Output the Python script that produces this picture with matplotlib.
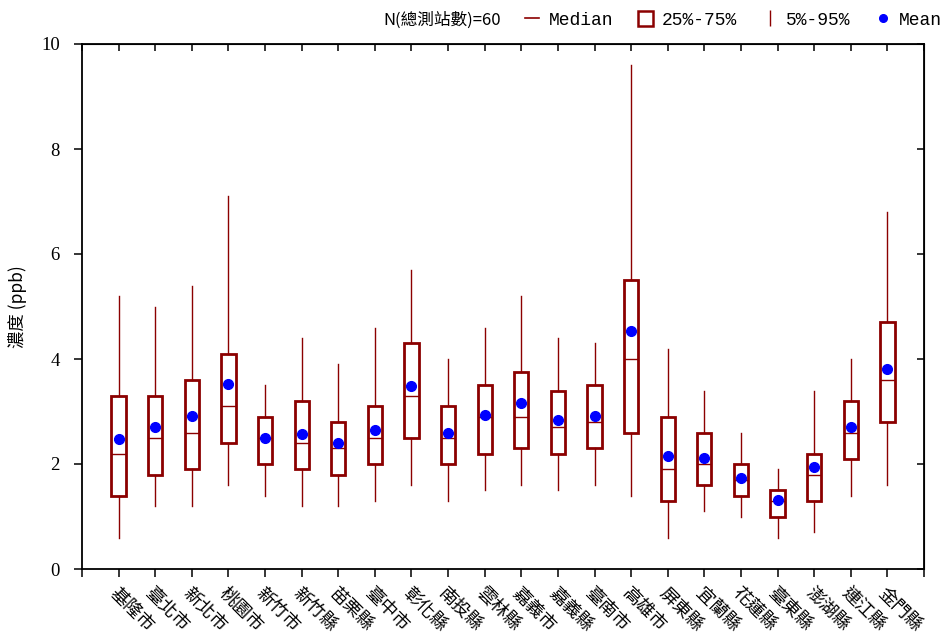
import matplotlib
matplotlib.use("Agg")
import matplotlib.pyplot as plt
from matplotlib.lines import Line2D
from matplotlib.patches import Rectangle

categories = ["基隆市", "臺北市", "新北市", "桃園市", "新竹市", "新竹縣", "苗栗縣", "臺中市",
              "彰化縣", "南投縣", "雲林縣", "嘉義市", "嘉義縣", "臺南市", "高雄市", "屏東縣",
              "宜蘭縣", "花蓮縣", "臺東縣", "澎湖縣", "連江縣", "金門縣"]
p05 = [0.6, 1.2, 1.2, 1.6, 1.4, 1.2, 1.2, 1.3, 1.6, 1.3, 1.5, 1.6, 1.5, 1.6, 1.4, 0.6,
       1.1, 1.0, 0.6, 0.7, 1.4, 1.6]
p25 = [1.4, 1.8, 1.9, 2.4, 2.0, 1.9, 1.8, 2.0, 2.5, 2.0, 2.2, 2.3, 2.2, 2.3, 2.6, 1.3,
       1.6, 1.4, 1.0, 1.3, 2.1, 2.8]
median = [2.2, 2.5, 2.6, 3.1, 2.5, 2.4, 2.3, 2.5, 3.3, 2.5, 2.9, 2.9, 2.7, 2.8, 4.0, 1.9,
          2.0, 1.7, 1.3, 1.8, 2.6, 3.6]
p75 = [3.3, 3.3, 3.6, 4.1, 2.9, 3.2, 2.8, 3.1, 4.3, 3.1, 3.5, 3.75, 3.4, 3.5, 5.5, 2.9,
       2.6, 2.0, 1.5, 2.2, 3.2, 4.7]
p95 = [5.2, 5.0, 5.4, 7.1, 3.5, 4.4, 3.9, 4.6, 5.7, 4.0, 4.6, 5.2, 4.4, 4.3, 9.6, 4.2,
       3.4, 2.6, 1.9, 3.4, 4.0, 6.8]
mean = [2.48, 2.70, 2.91, 3.52, 2.50, 2.58, 2.40, 2.65, 3.49, 2.60, 2.93, 3.16, 2.83, 2.91,
        4.53, 2.15, 2.12, 1.74, 1.31, 1.94, 2.70, 3.81]
y_ticks = [0, 2, 4, 6, 8, 10]
n_label = "N(總測站數)=60"
y_label = "濃度 (ppb)"

DR = "#8B0000"
fig = plt.figure(figsize=(9.43, 6.34), dpi=100)
ax = fig.add_axes([82/943, 65/634, (924-82)/943, (569-44)/634])

positions = list(range(1, len(categories) + 1))
stats = []
for i in range(len(categories)):
    stats.append(dict(whislo=p05[i], q1=p25[i], med=median[i], q3=p75[i], whishi=p95[i],
                      fliers=[], label=categories[i]))
ax.bxp(stats, positions=positions, widths=0.39, showcaps=False, showfliers=False,
       patch_artist=True,
       boxprops=dict(facecolor="white", edgecolor=DR, linewidth=2.0),
       medianprops=dict(color=DR, linewidth=1.0),
       whiskerprops=dict(color=DR, linewidth=1.0))
ax.plot(positions, mean, "o", color="blue", markersize=7, zorder=5, linestyle="none")

ax.set_xlim(0, len(categories) + 1)
ax.set_ylim(0, 10)
ax.set_yticks(y_ticks)
ax.set_yticklabels([str(v) for v in y_ticks], family="Liberation Serif", fontsize=13.5)
ax.set_xticks(range(0, len(categories) + 2))
ax.set_xticklabels([""] + categories + [""], rotation=-45, ha="left", va="top",
                   rotation_mode="anchor", family=["Noto Sans CJK TC"], fontsize=13)
ax.tick_params(axis="both", direction="out", length=6, width=1.1, colors="black")
ax.tick_params(axis="x", pad=5)
ax.tick_params(axis="y", pad=10)
for s in ax.spines.values():
    s.set_linewidth(1.3)

top = ax.secondary_xaxis("top")
top.set_xticks(range(0, len(categories) + 2))
top.set_xticklabels([])
top.tick_params(direction="in", length=5, width=1.1)
right = ax.secondary_yaxis("right")
right.set_yticks(y_ticks)
right.set_yticklabels([])
right.tick_params(direction="in", length=5, width=1.1)

ax.set_ylabel(y_label, family=["Noto Sans CJK TC", "DejaVu Sans"], fontsize=12.5, labelpad=10)

fig.text(383/943, 1 - 20/634, n_label, family=["Noto Sans CJK TC", "DejaVu Sans"],
         fontsize=12, va="center", ha="left")
handles = [
    Line2D([], [], color=DR, linewidth=1.2),
    Rectangle((0, 0), 1, 1, facecolor="white", edgecolor=DR, linewidth=1.8),
    Line2D([], [], color=DR, marker="|", markersize=12, linestyle="none"),
    Line2D([], [], color="blue", marker="o", markersize=5.5, linestyle="none"),
]
labels = ["Median", "25%-75%", "5%-95%", "Mean"]
leg = fig.legend(handles, labels, loc="center right", bbox_to_anchor=(942/943, 1 - 20/634),
                 ncol=4, frameon=False, prop=dict(family="Liberation Mono", size=13),
                 handlelength=0.8, handleheight=0.9, handletextpad=0.5, columnspacing=1.4,
                 borderpad=0, borderaxespad=0)

fig.savefig("out.png", dpi=100)
